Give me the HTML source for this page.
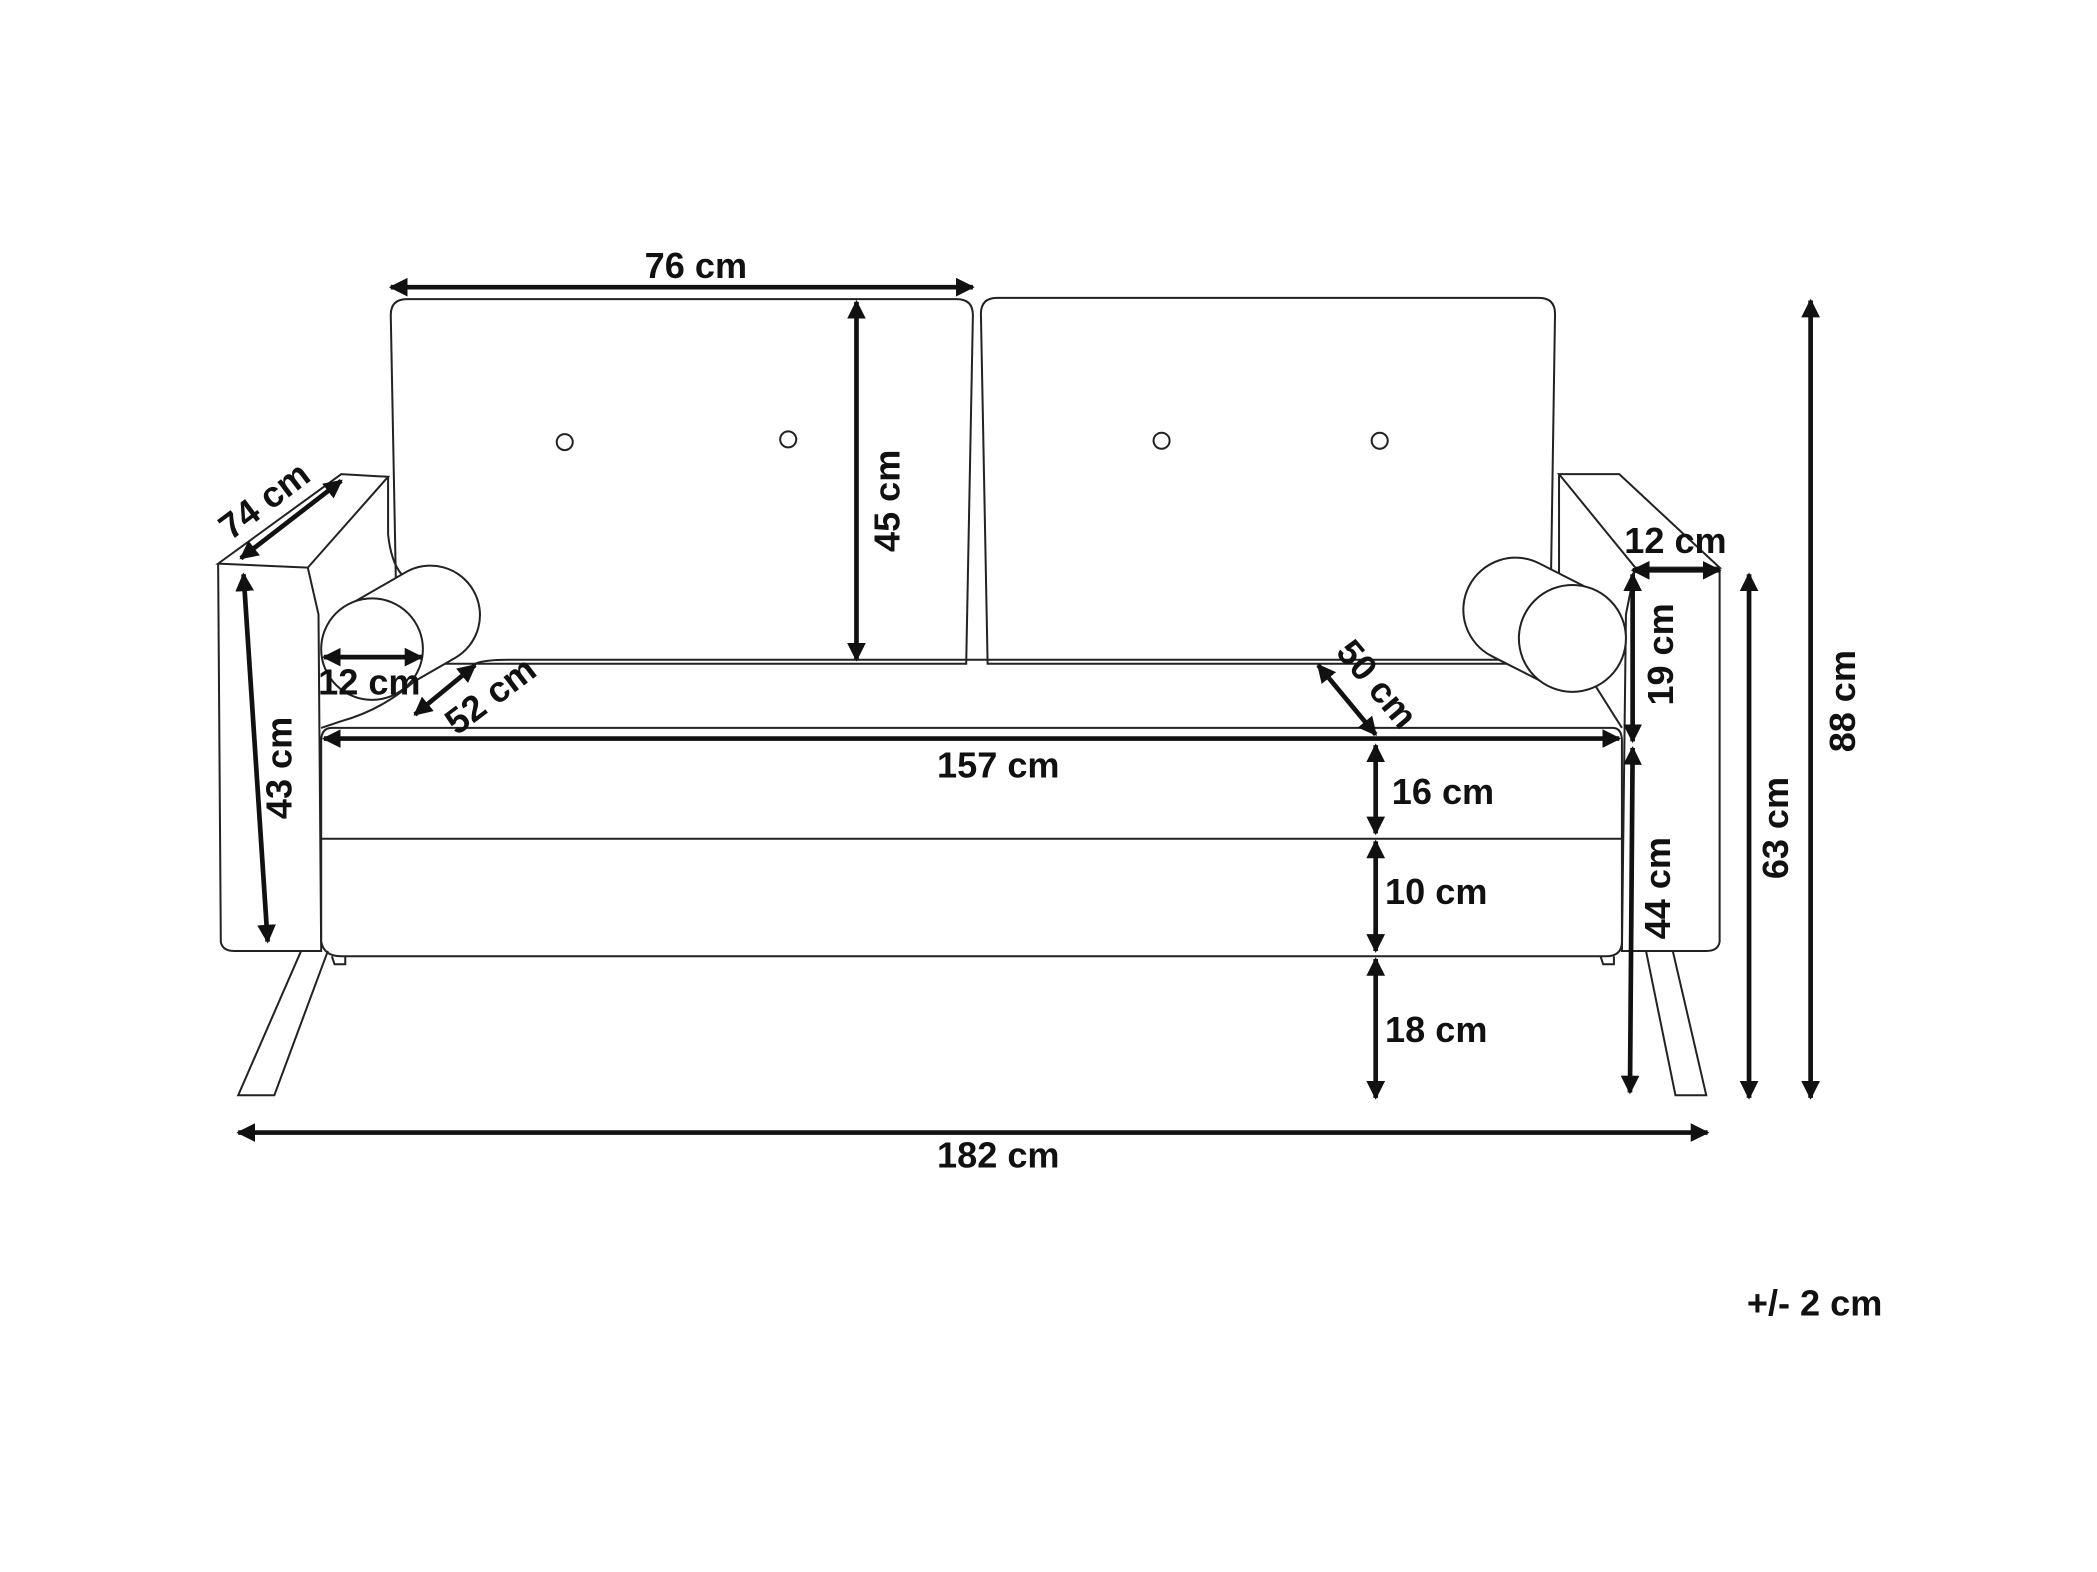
<!DOCTYPE html>
<html><head><meta charset="utf-8"><style>
html,body{margin:0;padding:0;background:#fff;}
svg{display:block;}
text{font-family:"Liberation Sans",sans-serif;font-weight:bold;font-size:27px;fill:#111;}
</style></head><body>
<svg width="2097" height="1572" viewBox="0 0 1567 1177" preserveAspectRatio="none" xmlns="http://www.w3.org/2000/svg">
<defs>
<marker id="a" viewBox="0 0 10 10" refX="9" refY="5" markerWidth="4" markerHeight="4" orient="auto-start-reverse"><path d="M0,0 L10,5 L0,10 z" fill="#111"/></marker>
</defs>
<g fill="none" stroke="#222" stroke-width="1.5">
<!-- back cushions -->
<path d="M304,224 H715 Q727,224 727,236 L722,497 H297 L292,236 Q292,224 304,224 Z"/>
<path d="M745,223 H1150 Q1162,223 1162,235 L1158,497 H738 L733,235 Q733,223 745,223 Z"/>
<circle cx="422" cy="331" r="6"/><circle cx="589" cy="329" r="6"/>
<circle cx="868" cy="330" r="6"/><circle cx="1031" cy="330" r="6"/>
<!-- left arm -->
<path d="M163,422 L255,355 L290,357 L230,425 Z"/>
<path d="M163,422 L165,705 Q166,712 175,712 L240,712 L238,460 L230,425"/>
<path d="M290,357 L290,400 Q292,420 300,430"/>
<!-- right arm -->
<path d="M1165,355 L1210,355 L1285,425 L1222,425 Z"/>
<path d="M1285,425 L1285,705 Q1284,712 1275,712 L1212,712 L1215,460 L1222,425"/>
<path d="M1165,355 L1165,430"/>
<!-- seat -->
<path d="M355,497 Q362,494 380,494 H1150 Q1180,496 1190,510 L1212,545"/>
<path d="M240,545 L255,540 Q290,530 315,505"/>
<path d="M248,545 H1205 Q1212,545 1212,555 V628 H240 V555 Q240,545 248,545 Z"/>
<path d="M240,628 V705 Q242,716 255,716 H1200 Q1212,716 1212,705 V628"/>
<!-- legs -->
<path d="M225,712 L178,820 L205,820 L245,712"/>
<path d="M1230,712 L1252,820 L1275,820 L1250,712"/>
<path d="M248,716 L250,722 H258 L258,716"/>
<path d="M1196,716 L1198,722 H1206 L1206,716"/>
</g>
<!-- bolsters -->
<g fill="#fff" stroke="#222" stroke-width="1.5">
<rect x="-62" y="-37" width="124" height="74" rx="37" transform="translate(300,473) rotate(-30)"/>
<circle cx="278" cy="486" r="38"/>
<rect x="-62" y="-39" width="124" height="78" rx="39" transform="translate(1153,467) rotate(27)"/>
<circle cx="1175" cy="478" r="40"/>
</g>
<g stroke="#111" stroke-width="3.5" marker-start="url(#a)" marker-end="url(#a)">
<line x1="292" y1="215" x2="727" y2="215"/>
<line x1="640" y1="226" x2="640" y2="494"/>
<line x1="180" y1="418" x2="255" y2="360"/>
<line x1="182" y1="430" x2="200" y2="705"/>
<line x1="242" y1="492" x2="315" y2="492"/>
<line x1="310" y1="535" x2="355" y2="498"/>
<line x1="242" y1="553" x2="1210" y2="553"/>
<line x1="985" y1="498" x2="1028" y2="550"/>
<line x1="1028" y1="558" x2="1028" y2="624"/>
<line x1="1028" y1="630" x2="1028" y2="712"/>
<line x1="1028" y1="718" x2="1028" y2="822"/>
<line x1="178" y1="848" x2="1276" y2="848"/>
<line x1="1220" y1="427" x2="1285" y2="427"/>
<line x1="1220" y1="430" x2="1220" y2="555"/>
<line x1="1220" y1="560" x2="1218" y2="818"/>
<line x1="1307" y1="430" x2="1307" y2="822"/>
<line x1="1353" y1="225" x2="1353" y2="822"/>
</g>
<text x="520" y="208" text-anchor="middle">76 cm</text>
<text transform="translate(672,375) rotate(-90)" text-anchor="middle">45 cm</text>
<text transform="translate(203,382) rotate(-37)" text-anchor="middle">74 cm</text>
<text transform="translate(218,575) rotate(-90)" text-anchor="middle">43 cm</text>
<text x="276" y="520" text-anchor="middle">12 cm</text>
<text transform="translate(372,528) rotate(-37)" text-anchor="middle">52 cm</text>
<text x="746" y="582" text-anchor="middle">157 cm</text>
<text transform="translate(1022,518) rotate(50)" text-anchor="middle">50 cm</text>
<text x="1040" y="602">16 cm</text>
<text x="1035" y="677">10 cm</text>
<text x="1035" y="780">18 cm</text>
<text x="746" y="874" text-anchor="middle">182 cm</text>
<text x="1252" y="414" text-anchor="middle">12 cm</text>
<text transform="translate(1250,490) rotate(-90)" text-anchor="middle">19 cm</text>
<text transform="translate(1248,665) rotate(-90)" text-anchor="middle">44 cm</text>
<text transform="translate(1336,620) rotate(-90)" text-anchor="middle">63 cm</text>
<text transform="translate(1386,525) rotate(-90)" text-anchor="middle">88 cm</text>
<text x="1356" y="985" text-anchor="middle">+/- 2 cm</text>
</svg>
</body></html>
